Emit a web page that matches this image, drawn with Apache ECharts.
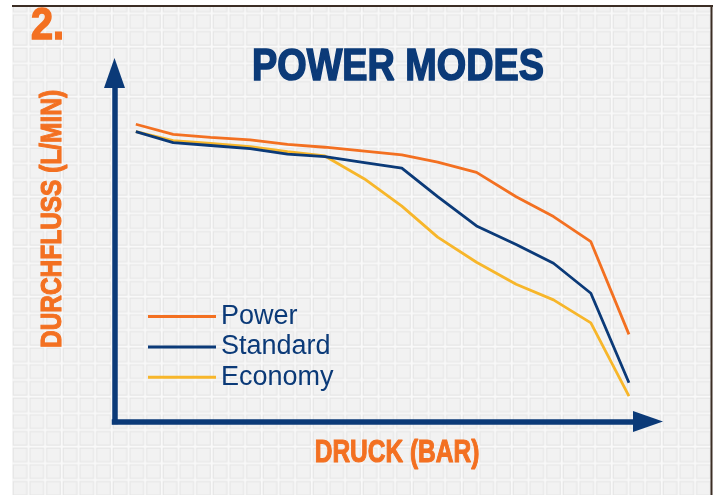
<!DOCTYPE html>
<html>
<head>
<meta charset="utf-8">
<title>Power Modes</title>
<script src="https://cdn.jsdelivr.net/npm/echarts@6/dist/echarts.min.js"></script>
<style>
  html, body { margin: 0; padding: 0; background: #fff; }
  #chart { width: 723px; height: 495px; }
</style>
</head>
<body>
<div id="chart"></div>
<script>
// druck (bar) where the curves were measured
const druck = [14, 38.5, 63, 89, 113.5, 138, 164, 188.5, 212, 237.5, 263.5, 288, 312.5, 337.5];
// durchfluss (l/min) per mode
const power    = [85.3, 82.4, 81.5, 80.8, 79.5, 78.7, 77.6, 76.5, 74.4, 71.5, 64.5, 58.8, 51.6, 25.0];
const standard = [83.2, 80.0, 79.2, 78.3, 76.7, 76.0, 74.3, 72.7, 64.5, 56.1, 50.8, 45.4, 36.8, 11.1];
const economy  = [83.2, 80.6, 79.8, 78.9, 77.4, 76.2, 69.6, 61.8, 52.9, 45.7, 39.4, 34.9, 28.3, 7.3];
const modeNames = ['Power', 'Standard', 'Economy'];

const NAVY = '#0b3a78';
const ORANGE = '#f37021';
const YELLOW = '#f7b62a';

// little tile for the paper grid in the background
function makeTile() {
  const c = document.createElement('canvas');
  c.width = 50; c.height = 50;
  const ctx = c.getContext('2d');
  ctx.fillStyle = '#f9f9f9';
  ctx.fillRect(0, 0, 50, 50);
  const s = 50 / 3;
  for (let i = 0; i < 3; i++) {
    for (let j = 0; j < 3; j++) {
      ctx.fillStyle = '#f2f2f2';
      ctx.fillRect(i * s + 1.5, j * s + 1.5, s - 3, s - 3);
      ctx.strokeStyle = '#e4e4e4';
      ctx.lineWidth = 1;
      ctx.strokeRect(i * s + 1.5, j * s + 1.5, s - 3, s - 3);
    }
  }
  return c;
}

function pairs(vals) {
  return druck.map((d, i) => [d, vals[i]]);
}

const chart = echarts.init(document.getElementById('chart'));

const axisLine = {
  show: true,
  symbol: ['none', 'triangle'],
  symbolSize: [21, 30],
  lineStyle: { color: NAVY, width: 5.5, cap: 'square' }
};

const headFont = '"Liberation Sans", Arial, sans-serif';

chart.setOption({
  animation: false,
  backgroundColor: '#ffffff',
  grid: { left: 114.5, right: 75, top: 73, bottom: 73.5 },
  xAxis: {
    type: 'value',
    min: 0,
    max: 350,
    axisLine: axisLine,
    axisTick: { show: false },
    axisLabel: { show: false },
    splitLine: { show: false }
  },
  yAxis: {
    type: 'value',
    min: 0,
    max: 100,
    axisLine: axisLine,
    axisTick: { show: false },
    axisLabel: { show: false },
    splitLine: { show: false }
  },
  legend: {
    data: modeNames,
    orient: 'vertical',
    left: 143,
    top: 298,
    padding: 5,
    icon: 'rect',
    itemWidth: 68,
    itemHeight: 3,
    itemGap: 3.4,
    textStyle: {
      color: NAVY,
      fontSize: 27,
      lineHeight: 27,
      fontFamily: headFont
    }
  },
  series: [
    {
      name: 'Power',
      type: 'line',
      data: pairs(power),
      symbol: 'none',
      z: 4,
      lineStyle: { color: ORANGE, width: 2.8 },
      itemStyle: { color: ORANGE }
    },
    {
      name: 'Standard',
      type: 'line',
      data: pairs(standard),
      symbol: 'none',
      z: 3,
      lineStyle: { color: NAVY, width: 2.8 },
      itemStyle: { color: NAVY }
    },
    {
      name: 'Economy',
      type: 'line',
      data: pairs(economy),
      symbol: 'none',
      z: 2,
      lineStyle: { color: YELLOW, width: 2.8 },
      itemStyle: { color: YELLOW }
    }
  ],
  graphic: [
    // paper with grid
    {
      type: 'rect',
      z: -10,
      x: 11.7,
      y: -3.4,
      shape: { x: 0.3, y: 9.9, width: 699, height: 490 },
      style: { fill: { image: makeTile(), repeat: 'repeat' } },
      silent: true
    },
    // dark edges of the photo
    {
      type: 'rect', z: -9, silent: true,
      shape: { x: 12, y: 5, width: 701, height: 2 },
      style: { fill: '#3b2d24' }
    },
    {
      type: 'rect', z: -9, silent: true,
      shape: { x: 710.5, y: 5, width: 2, height: 490 },
      style: { fill: '#3b2d24' }
    },
    // headings, a stroke makes them as heavy as the poster font
    {
      type: 'text', x: 31, y: 26.5, scaleX: 0.88,
      style: {
        text: '2.', fill: ORANGE, stroke: ORANGE, lineWidth: 1.6, verticalAlign: 'middle',
        font: 'bold 45px ' + headFont
      }
    },
    {
      type: 'text', x: 398, y: 68, scaleX: 0.84,
      style: {
        text: 'POWER MODES', fill: NAVY, stroke: NAVY, lineWidth: 1.6,
        align: 'center', verticalAlign: 'middle',
        font: 'bold 45px ' + headFont
      }
    },
    {
      type: 'text', x: 52.5, y: 219, scaleX: 0.815, rotation: Math.PI / 2,
      style: {
        text: 'DURCHFLUSS (L/MIN)', fill: ORANGE, stroke: ORANGE, lineWidth: 1.1,
        align: 'center', verticalAlign: 'middle',
        font: 'bold 30px ' + headFont
      }
    },
    {
      type: 'text', x: 397, y: 453, scaleX: 0.79,
      style: {
        text: 'DRUCK (BAR)', fill: ORANGE, stroke: ORANGE, lineWidth: 1.1,
        align: 'center', verticalAlign: 'middle',
        font: 'bold 31px ' + headFont
      }
    }
  ]
});
</script>
</body>
</html>
